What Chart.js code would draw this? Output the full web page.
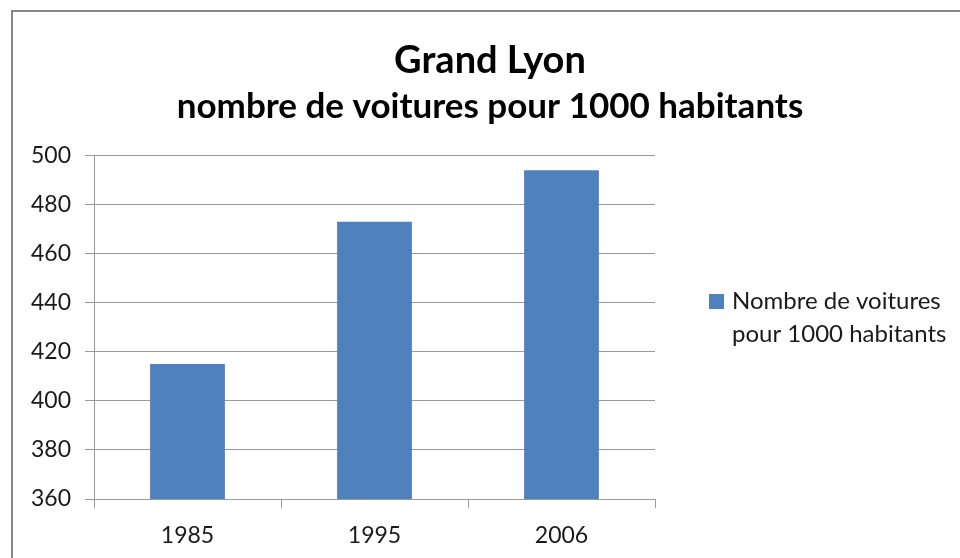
<!DOCTYPE html>
<html>
<head>
<meta charset="utf-8">
<script src="https://cdn.jsdelivr.net/npm/chart.js@4"></script>
<style>
  html, body { margin: 0; padding: 0; background: #fff; }
  #wrap { width: 960px; height: 558px; }
</style>
</head>
<body>
<div id="wrap"><canvas id="chart" width="960" height="558"></canvas></div>
<script>
// Données du graphique
const years = ['1985', '1995', '2006'];
const carsPer1000 = [415, 473, 494];
const yTicks = [360, 380, 400, 420, 440, 460, 480, 500];
const seriesLabel = ['Nombre de voitures', 'pour 1000 habitants'];

const FONT = 'Lato, "Open Sans", sans-serif';
const GRID = '#9a9a9a';

// Cadre gris autour du graphique
const framePlugin = {
    id: 'frame',
    afterDraw(chart) {
        const ctx = chart.ctx;
        ctx.save();
        ctx.strokeStyle = '#878787';
        ctx.lineWidth = 2;
        ctx.strokeRect(12, 11, 980, 600);
        ctx.restore();
    }
};

// Légende à droite (texte sur deux lignes)
const legendPlugin = {
    id: 'sideLegend',
    afterDraw(chart) {
        const ctx = chart.ctx;
        const ds = chart.data.datasets[0];
        ctx.save();
        ctx.fillStyle = ds.backgroundColor;
        ctx.fillRect(709, 294, 15, 15);
        ctx.fillStyle = '#1a1a1a';
        ctx.font = '24px ' + FONT;
        ctx.textBaseline = 'middle';
        ds.label.forEach((line, i) => ctx.fillText(line, 732, 301 + i * 33));
        ctx.restore();
    }
};

new Chart(document.getElementById('chart'), {
    type: 'bar',
    data: {
        labels: years,
        datasets: [{
            label: seriesLabel,
            data: carsPer1000,
            backgroundColor: '#4f81bd',
            borderWidth: 0,
            barPercentage: 0.4,
            categoryPercentage: 1.0
        }]
    },
    options: {
        responsive: false,
        animation: false,
        layout: { padding: { left: 20, right: 0, top: 0, bottom: 0 } },
        plugins: {
            legend: { display: false },
            tooltip: { enabled: false },
            title: {
                display: true,
                text: 'Grand Lyon',
                color: '#000',
                font: { family: FONT, size: 38, weight: 'bold' },
                padding: { top: 38, bottom: 2 }
            },
            subtitle: {
                display: true,
                text: 'nombre de voitures pour 1000 habitants',
                color: '#000',
                font: { family: FONT, size: 35, weight: 'bold' },
                padding: { top: 0, bottom: 28 }
            }
        },
        scales: {
            x: {
                offset: true,
                grid: {
                    offset: true,
                    drawOnChartArea: false,
                    drawTicks: true,
                    tickLength: 9,
                    color: GRID
                },
                border: { color: GRID, width: 1 },
                ticks: {
                    color: '#1a1a1a',
                    font: { family: FONT, size: 23 },
                    padding: 14
                },
                afterFit(scale) { scale.height = 59; }
            },
            y: {
                min: 360,
                max: 500,
                afterBuildTicks(scale) { scale.ticks = yTicks.map(v => ({ value: v })); },
                grid: { color: GRID, tickLength: 9 },
                border: { color: GRID, width: 1 },
                ticks: {
                    color: '#1a1a1a',
                    font: { family: FONT, size: 23 },
                    padding: 14
                },
                afterFit(scale) { scale.width = 74; }
            },
            // axe vide pour réserver la place de la légende
            yRight: {
                position: 'right',
                display: true,
                grid: { display: false },
                border: { display: false },
                ticks: { display: false },
                afterFit(scale) { scale.width = 305; }
            }
        }
    },
    plugins: [framePlugin, legendPlugin]
});
</script>
</body>
</html>
